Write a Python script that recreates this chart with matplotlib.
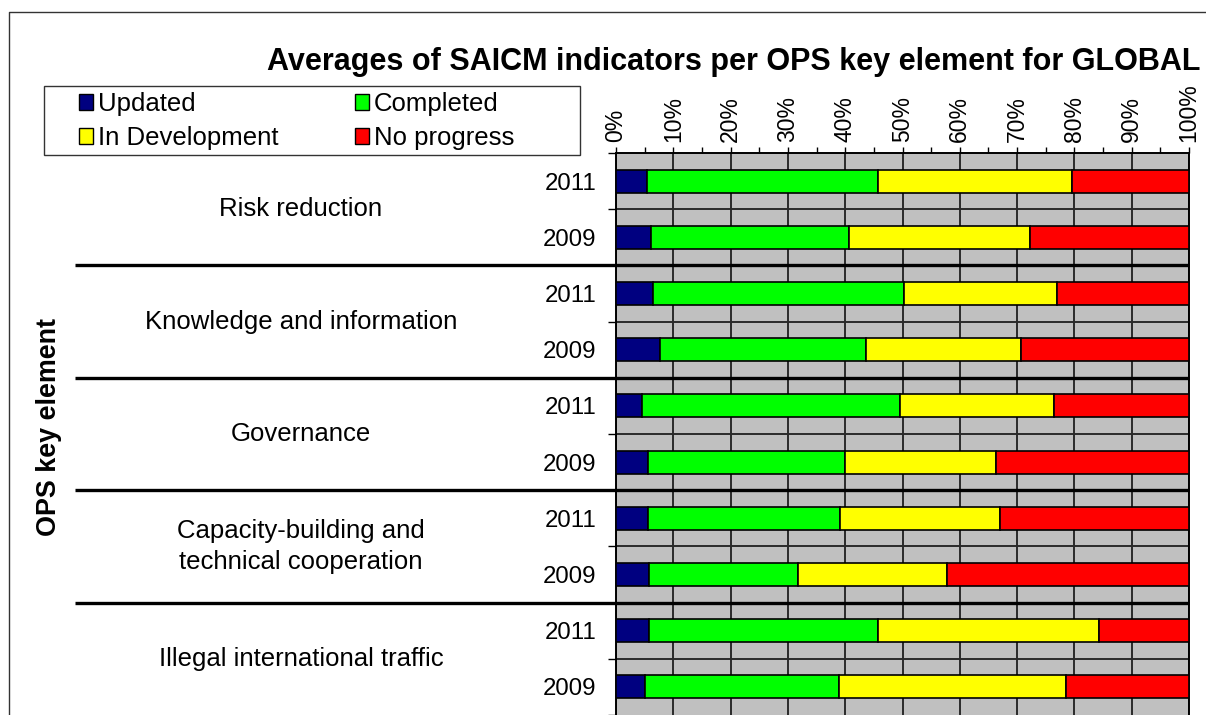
import matplotlib
matplotlib.use("Agg")
import matplotlib.pyplot as plt
import matplotlib.transforms as mtransforms
from matplotlib.patches import Patch, Rectangle
from matplotlib.lines import Line2D
import numpy as np

plt.rcParams['font.family'] = ['Liberation Sans', 'DejaVu Sans']

# ---------------- data ----------------
groups = ["Risk reduction", "Knowledge and information", "Governance",
          "Capacity-building and\ntechnical cooperation", "Illegal international traffic"]
years = ["2011", "2009"]
series_names = ["Updated", "Completed", "In Development", "No progress"]
colors = ["#000080", "#00FF00", "#FFFF00", "#FF0000"]

# rows top to bottom: Risk 2011, Risk 2009, Knowledge 2011, Knowledge 2009, ...
updated = [5.4, 6.1, 6.5, 7.6, 4.5, 5.6, 5.6, 5.8, 5.8, 5.1]
completed = [40.3, 34.6, 43.7, 36.1, 45.1, 34.4, 33.5, 26.0, 39.9, 33.9]
in_development = [33.9, 31.5, 26.7, 27.0, 26.9, 26.3, 28.0, 25.9, 38.6, 39.5]
no_progress = [20.4, 27.8, 23.1, 29.3, 23.5, 33.7, 32.9, 42.3, 15.7, 21.5]

x_ticks = list(range(0, 101, 10))
x_tick_labels = [f"{v}%" for v in x_ticks]
title = "Averages of SAICM indicators per OPS key element for GLOBAL"
y_label = "OPS key element"

# ---------------- figure ----------------
W, H = 1206, 715
fig = plt.figure(figsize=(W / 100, H / 100), dpi=100)
fig.patch.set_facecolor("white")

ax = fig.add_axes([616 / W, 0, 573 / W, 1 - 153 / H])
ax.set_facecolor("#C0C0C0")

n = len(groups) * len(years)
ypos = np.arange(n)
left = np.zeros(n)
for vals, name, c in zip([updated, completed, in_development, no_progress], series_names, colors):
    ax.barh(ypos, vals, left=left, height=0.41, color=c, edgecolor="black",
            linewidth=1.2, zorder=3, label=name)
    left += np.array(vals)

ax.set_xlim(0, 100)
ax.set_ylim(n - 0.5, -0.5)

# x axis on top
ax.xaxis.tick_top()
ax.set_xticks(x_ticks)
ax.set_xticklabels(x_tick_labels, rotation=90, fontsize=16.5)
ax.set_xticks(np.arange(5, 100, 10), minor=True)
ax.tick_params(axis='x', which='both', direction='out', length=4, width=1, pad=4, colors='black')
ax.grid(axis='x', which='major', color='#2a2a2a', linewidth=1.4)
ax.set_axisbelow(True)

# y axis: years as tick labels, boundaries as minor ticks
ax.set_yticks(ypos)
ax.set_yticklabels(years * len(groups), fontsize=17.3)
ax.set_yticks(np.arange(-0.5, n, 1.0), minor=True)
ax.tick_params(axis='y', which='major', length=0, pad=14)
ax.tick_params(axis='y', which='minor', direction='out', length=6, width=1)

for s in ['left', 'top', 'right']:
    ax.spines[s].set_color('black')
    ax.spines[s].set_linewidth(1.4)
ax.spines['bottom'].set_visible(False)

trans = mtransforms.blended_transform_factory(ax.transAxes, ax.transData)
# thin boundaries within groups
for b in np.arange(0.5, n, 2):
    ax.axhline(b, color='#2a2a2a', linewidth=1.4, zorder=1)
# thick group separators extending to the left
sep_left = (75 - 616) / 573
for b in np.arange(1.5, n - 1, 2):
    ax.plot([sep_left, 1], [b, b], transform=trans, color='black', linewidth=2.4,
            clip_on=False, zorder=4, solid_capstyle='butt')

# group labels
for gi, g in enumerate(groups):
    ax.text((301 - 616) / 573, 2 * gi + 0.5, g, transform=trans, ha='center', va='center',
            fontsize=18.5, linespacing=1.35)

# y label
fig.text(49 / W, 1 - 427 / H, y_label, rotation=90, ha='center', va='center',
         fontsize=19.4, fontweight='bold')

# title
fig.text(734 / W, 1 - 62 / H, title, ha='center', va='center', fontsize=22, fontweight='bold')

# legend (frame drawn separately)
handles = [Patch(facecolor=c, edgecolor='black', linewidth=1.0) for c in colors]
order = [0, 2, 1, 3]
leg = fig.legend([handles[i] for i in order], [series_names[i] for i in order], ncol=2,
                 loc='upper left', bbox_to_anchor=(79 / W, 1 - 92 / H), frameon=False,
                 fontsize=18.5, handlelength=0.55, handleheight=0.55, handletextpad=0.2,
                 columnspacing=2.95, labelspacing=0.4, borderpad=0, borderaxespad=0)
fig.patches.append(Rectangle((44 / W, 1 - 155 / H), 536 / W, 69 / H, transform=fig.transFigure,
                             fill=False, edgecolor='#333333', linewidth=1.0))

# outer border (top and left)
fig.lines.append(Line2D([9 / W, 9 / W, 1.0], [0, 1 - 12 / H, 1 - 12 / H], transform=fig.transFigure,
                        color='#333333', linewidth=1.0))

fig.savefig("out.png", dpi=100)
